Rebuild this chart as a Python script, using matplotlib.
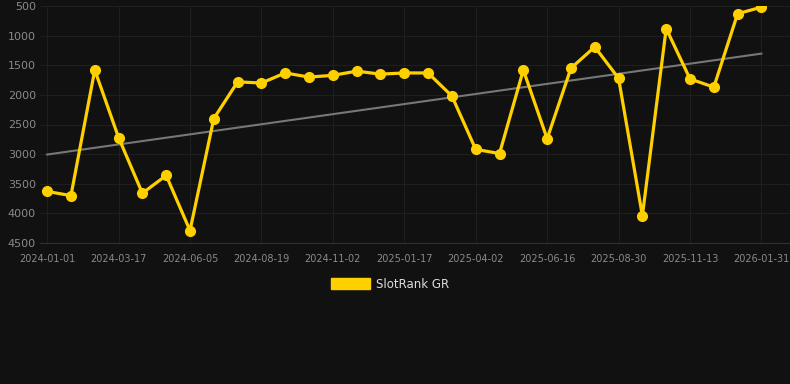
import numpy as np
import matplotlib
matplotlib.use('Agg')
import matplotlib.pyplot as plt
from matplotlib.patches import Patch

# valores de rank (eixo invertido)
ranks = [3630, 3700, 1580, 2720, 3660, 3360, 4290, 2400, 1780, 1800,
         1630, 1700, 1670, 1600, 1650, 1630, 1630, 2020, 2920, 2990,
         1580, 2740, 1550, 1190, 1720, 4040, 880, 1730, 1870, 630, 520]

tick_labels = ['2024-01-01', '2024-03-17', '2024-06-05', '2024-08-19',
               '2024-11-02', '2025-01-17', '2025-04-02', '2025-06-16',
               '2025-08-30', '2025-11-13', '2026-01-31']

y_ticks = [500, 1000, 1500, 2000, 2500, 3000, 3500, 4000, 4500]

bg = '#111111'
amarelo = '#FFD000'

fig = plt.figure(figsize=(7.9, 3.84), dpi=100, facecolor=bg)
ax = fig.add_axes([40 / 790, 1 - 243 / 384, 750 / 790, 237 / 384])
ax.set_facecolor(bg)

x = np.arange(len(ranks))

# linha de tendencia (regressao linear)
a, b = np.polyfit(x, ranks, 1)
ax.plot(x, a * x + b, color='#777777', linewidth=1.5, zorder=2)

ax.plot(x, ranks, color=amarelo, linewidth=2.3, marker='o', markersize=7,
        zorder=3)

ax.set_ylim(4500, 500)
ax.set_xlim(-0.3, 31.2)
ax.set_yticks(y_ticks)
ax.set_xticks(x[::3])
ax.set_xticklabels(tick_labels)

ax.grid(True, color='#1f1f1f', linewidth=0.8)
ax.set_axisbelow(True)
for lado in ['top', 'right', 'left']:
    ax.spines[lado].set_visible(False)
ax.spines['bottom'].set_color('#303030')
ax.tick_params(axis='both', length=0)
ax.tick_params(axis='y', labelsize=8, labelcolor='#8a8a8a', pad=3)
ax.tick_params(axis='x', labelsize=7, labelcolor='#8a8a8a', pad=8)

leg = fig.legend(handles=[Patch(color=amarelo, label='SlotRank GR')],
                 loc='center', bbox_to_anchor=(390 / 790, 1 - 284 / 384),
                 frameon=False, fontsize=8.5, handlelength=3.3,
                 handleheight=1.0, handletextpad=0.5)
for t in leg.get_texts():
    t.set_color('#dddddd')

plt.savefig('out.png', dpi=100, facecolor=bg)
